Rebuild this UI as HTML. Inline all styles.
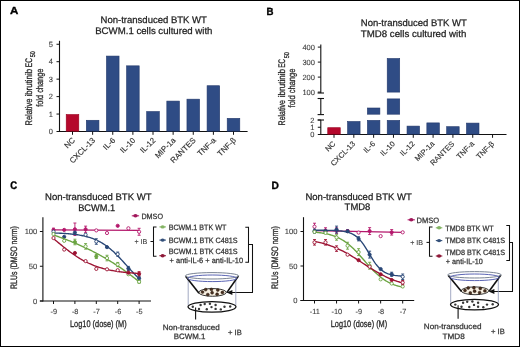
<!DOCTYPE html>
<html><head><meta charset="utf-8"><style>
html,body{margin:0;padding:0;background:#fff;}
svg{display:block;font-family:"Liberation Sans", sans-serif;will-change:transform;}
text{text-rendering:geometricPrecision;}
</style></head><body>
<svg width="520" height="347" viewBox="0 0 520 347">
<rect x="0" y="0" width="520" height="347" fill="#fff"/>
<text x="10.1" y="14.4" font-size="10.2" text-anchor="start" font-weight="bold" fill="#000" textLength="8.3" lengthAdjust="spacingAndGlyphs" stroke="#000" stroke-width="0.35">A</text>
<text x="266.6" y="14.6" font-size="10.4" text-anchor="start" font-weight="bold" fill="#000" textLength="7.0" lengthAdjust="spacingAndGlyphs" stroke="#000" stroke-width="0.35">B</text>
<text x="10.3" y="189.4" font-size="11.0" text-anchor="start" font-weight="bold" fill="#000" textLength="6.9" lengthAdjust="spacingAndGlyphs" stroke="#000" stroke-width="0.35">C</text>
<text x="271.4" y="189.0" font-size="10.6" text-anchor="start" font-weight="bold" fill="#000" textLength="7.4" lengthAdjust="spacingAndGlyphs" stroke="#000" stroke-width="0.35">D</text>
<text x="153.75" y="22.8" font-size="9.6" text-anchor="middle" font-weight="normal" fill="#222" textLength="106.3" lengthAdjust="spacingAndGlyphs" stroke="#222" stroke-width="0.25">Non-transduced BTK WT</text>
<text x="153.85" y="34.4" font-size="9.6" text-anchor="middle" font-weight="normal" fill="#222" textLength="117.3" lengthAdjust="spacingAndGlyphs" stroke="#222" stroke-width="0.25">BCWM.1 cells cultured with</text>
<line x1="59.5" y1="40.8" x2="59.5" y2="132.0" stroke="#111" stroke-width="1.1"/>
<line x1="59.0" y1="131.5" x2="247.6" y2="131.5" stroke="#111" stroke-width="1.1"/>
<line x1="56.5" y1="131.5" x2="59.5" y2="131.5" stroke="#111" stroke-width="1.0"/>
<text x="53.0" y="134.2" font-size="7.5" text-anchor="end" font-weight="normal" fill="#3a3a3a" stroke="#444" stroke-width="0.1">0</text>
<line x1="56.5" y1="114.05" x2="59.5" y2="114.05" stroke="#111" stroke-width="1.0"/>
<text x="53.0" y="116.75" font-size="7.5" text-anchor="end" font-weight="normal" fill="#3a3a3a" stroke="#444" stroke-width="0.1">1</text>
<line x1="56.5" y1="96.6" x2="59.5" y2="96.6" stroke="#111" stroke-width="1.0"/>
<text x="53.0" y="99.3" font-size="7.5" text-anchor="end" font-weight="normal" fill="#3a3a3a" stroke="#444" stroke-width="0.1">2</text>
<line x1="56.5" y1="79.15" x2="59.5" y2="79.15" stroke="#111" stroke-width="1.0"/>
<text x="53.0" y="81.85000000000001" font-size="7.5" text-anchor="end" font-weight="normal" fill="#3a3a3a" stroke="#444" stroke-width="0.1">3</text>
<line x1="56.5" y1="61.7" x2="59.5" y2="61.7" stroke="#111" stroke-width="1.0"/>
<text x="53.0" y="64.4" font-size="7.5" text-anchor="end" font-weight="normal" fill="#3a3a3a" stroke="#444" stroke-width="0.1">4</text>
<line x1="56.5" y1="44.25" x2="59.5" y2="44.25" stroke="#111" stroke-width="1.0"/>
<text x="53.0" y="46.95" font-size="7.5" text-anchor="end" font-weight="normal" fill="#3a3a3a" stroke="#444" stroke-width="0.1">5</text>
<rect x="66.20" y="114.52" width="12.60" height="16.68" fill="#b5082c" stroke="#98001f" stroke-width="0.6"/>
<line x1="72.5" y1="131.5" x2="72.5" y2="134.8" stroke="#111" stroke-width="1.0"/>
<text x="0" y="0" font-size="7.9" text-anchor="end" fill="#333" stroke="#333" stroke-width="0.15" transform="translate(75.50,140.80) rotate(-45)">NC</text>
<rect x="86.33" y="120.28" width="12.60" height="10.92" fill="#2f4c85" stroke="#22386a" stroke-width="0.6"/>
<line x1="92.625" y1="131.5" x2="92.625" y2="134.8" stroke="#111" stroke-width="1.0"/>
<text x="0" y="0" font-size="7.9" text-anchor="end" fill="#333" stroke="#333" stroke-width="0.15" transform="translate(95.62,140.80) rotate(-45)">CXCL-13</text>
<rect x="106.45" y="56.07" width="12.60" height="75.13" fill="#2f4c85" stroke="#22386a" stroke-width="0.6"/>
<line x1="112.75" y1="131.5" x2="112.75" y2="134.8" stroke="#111" stroke-width="1.0"/>
<text x="0" y="0" font-size="7.9" text-anchor="end" fill="#333" stroke="#333" stroke-width="0.15" transform="translate(115.75,140.80) rotate(-45)">IL-6</text>
<rect x="126.58" y="65.84" width="12.60" height="65.36" fill="#2f4c85" stroke="#22386a" stroke-width="0.6"/>
<line x1="132.875" y1="131.5" x2="132.875" y2="134.8" stroke="#111" stroke-width="1.0"/>
<text x="0" y="0" font-size="7.9" text-anchor="end" fill="#333" stroke="#333" stroke-width="0.15" transform="translate(135.88,140.80) rotate(-45)">IL-10</text>
<rect x="146.70" y="111.56" width="12.60" height="19.64" fill="#2f4c85" stroke="#22386a" stroke-width="0.6"/>
<line x1="153.0" y1="131.5" x2="153.0" y2="134.8" stroke="#111" stroke-width="1.0"/>
<text x="0" y="0" font-size="7.9" text-anchor="end" fill="#333" stroke="#333" stroke-width="0.15" transform="translate(156.00,140.80) rotate(-45)">IL-12</text>
<rect x="166.83" y="101.09" width="12.60" height="30.11" fill="#2f4c85" stroke="#22386a" stroke-width="0.6"/>
<line x1="173.125" y1="131.5" x2="173.125" y2="134.8" stroke="#111" stroke-width="1.0"/>
<text x="0" y="0" font-size="7.9" text-anchor="end" fill="#333" stroke="#333" stroke-width="0.15" transform="translate(176.12,140.80) rotate(-45)">MIP-1a</text>
<rect x="186.95" y="99.17" width="12.60" height="32.03" fill="#2f4c85" stroke="#22386a" stroke-width="0.6"/>
<line x1="193.25" y1="131.5" x2="193.25" y2="134.8" stroke="#111" stroke-width="1.0"/>
<text x="0" y="0" font-size="7.9" text-anchor="end" fill="#333" stroke="#333" stroke-width="0.15" transform="translate(196.25,140.80) rotate(-45)">RANTES</text>
<rect x="207.08" y="85.73" width="12.60" height="45.47" fill="#2f4c85" stroke="#22386a" stroke-width="0.6"/>
<line x1="213.375" y1="131.5" x2="213.375" y2="134.8" stroke="#111" stroke-width="1.0"/>
<text x="0" y="0" font-size="7.9" text-anchor="end" fill="#333" stroke="#333" stroke-width="0.15" transform="translate(216.38,140.80) rotate(-45)">TNF-a</text>
<rect x="227.20" y="118.36" width="12.60" height="12.84" fill="#2f4c85" stroke="#22386a" stroke-width="0.6"/>
<line x1="233.5" y1="131.5" x2="233.5" y2="134.8" stroke="#111" stroke-width="1.0"/>
<text x="0" y="0" font-size="7.9" text-anchor="end" fill="#333" stroke="#333" stroke-width="0.15" transform="translate(236.50,140.80) rotate(-45)">TNF-&#946;</text>
<text font-size="9.6" fill="#2a2a2a" stroke="#2a2a2a" stroke-width="0.3" transform="translate(31.9,125.4) rotate(-90)" textLength="26.7" lengthAdjust="spacingAndGlyphs">Relative</text>
<text font-size="9.6" fill="#2a2a2a" stroke="#2a2a2a" stroke-width="0.3" transform="translate(31.9,96.6) rotate(-90)" textLength="27.8" lengthAdjust="spacingAndGlyphs">ibrutinib</text>
<text font-size="9.6" fill="#2a2a2a" stroke="#2a2a2a" stroke-width="0.3" transform="translate(31.9,67.2) rotate(-90)" textLength="9.1" lengthAdjust="spacingAndGlyphs">EC</text>
<text font-size="6.912" fill="#2a2a2a" stroke="#2a2a2a" stroke-width="0.3" transform="translate(35.3,57.2) rotate(-90)" textLength="6.0" lengthAdjust="spacingAndGlyphs">50</text>
<text font-size="9.6" fill="#2a2a2a" stroke="#2a2a2a" stroke-width="0.3" transform="translate(42.9,106.8) rotate(-90)" textLength="38.2" lengthAdjust="spacingAndGlyphs">fold change</text>
<text x="413.8" y="25.7" font-size="9.6" text-anchor="middle" font-weight="normal" fill="#222" textLength="106.0" lengthAdjust="spacingAndGlyphs" stroke="#222" stroke-width="0.25">Non-transduced BTK WT</text>
<text x="413.55" y="36.8" font-size="9.6" text-anchor="middle" font-weight="normal" fill="#222" textLength="105.5" lengthAdjust="spacingAndGlyphs" stroke="#222" stroke-width="0.25">TMD8 cells cultured with</text>
<line x1="320.8" y1="44.4" x2="320.8" y2="93.0" stroke="#111" stroke-width="1.1"/>
<line x1="317.6" y1="93.0" x2="324.0" y2="93.0" stroke="#111" stroke-width="1.1"/>
<line x1="317.8" y1="47.1" x2="320.8" y2="47.1" stroke="#111" stroke-width="1.0"/>
<text x="314.9" y="49.800000000000004" font-size="7.5" text-anchor="end" font-weight="normal" fill="#3a3a3a" stroke="#444" stroke-width="0.1">400</text>
<line x1="317.8" y1="62.1" x2="320.8" y2="62.1" stroke="#111" stroke-width="1.0"/>
<text x="314.9" y="64.8" font-size="7.5" text-anchor="end" font-weight="normal" fill="#3a3a3a" stroke="#444" stroke-width="0.1">300</text>
<line x1="317.8" y1="77.1" x2="320.8" y2="77.1" stroke="#111" stroke-width="1.0"/>
<text x="314.9" y="79.8" font-size="7.5" text-anchor="end" font-weight="normal" fill="#3a3a3a" stroke="#444" stroke-width="0.1">200</text>
<line x1="317.8" y1="92.1" x2="320.8" y2="92.1" stroke="#111" stroke-width="1.0"/>
<text x="314.9" y="94.8" font-size="7.5" text-anchor="end" font-weight="normal" fill="#3a3a3a" stroke="#444" stroke-width="0.1">100</text>
<line x1="320.8" y1="98.5" x2="320.8" y2="114.6" stroke="#111" stroke-width="1.1"/>
<line x1="317.6" y1="98.5" x2="324.0" y2="98.5" stroke="#111" stroke-width="1.1"/>
<line x1="317.6" y1="114.6" x2="324.0" y2="114.6" stroke="#111" stroke-width="1.1"/>
<line x1="320.8" y1="120.0" x2="320.8" y2="135.0" stroke="#111" stroke-width="1.1"/>
<line x1="317.6" y1="120.0" x2="324.0" y2="120.0" stroke="#111" stroke-width="1.1"/>
<text x="314.5" y="137.2" font-size="7.5" text-anchor="end" font-weight="normal" fill="#3a3a3a" stroke="#444" stroke-width="0.1">0</text>
<line x1="317.8" y1="127.25" x2="320.8" y2="127.25" stroke="#111" stroke-width="1.0"/>
<text x="314.5" y="129.95" font-size="7.5" text-anchor="end" font-weight="normal" fill="#3a3a3a" stroke="#444" stroke-width="0.1">1</text>
<line x1="317.8" y1="120.0" x2="320.8" y2="120.0" stroke="#111" stroke-width="1.0"/>
<text x="314.5" y="122.7" font-size="7.5" text-anchor="end" font-weight="normal" fill="#3a3a3a" stroke="#444" stroke-width="0.1">2</text>
<line x1="317.8" y1="134.5" x2="506.5" y2="134.5" stroke="#111" stroke-width="1.1"/>
<rect x="327.75" y="127.70" width="12.50" height="6.50" fill="#b5082c" stroke="#98001f" stroke-width="0.6"/>
<line x1="334.0" y1="134.5" x2="334.0" y2="137.8" stroke="#111" stroke-width="1.0"/>
<text x="0" y="0" font-size="7.6" text-anchor="end" fill="#333" stroke="#333" stroke-width="0.15" transform="translate(336.00,144.30) rotate(-45)">NC</text>
<rect x="347.57" y="121.50" width="12.50" height="12.70" fill="#2f4c85" stroke="#22386a" stroke-width="0.6"/>
<line x1="353.82" y1="134.5" x2="353.82" y2="137.8" stroke="#111" stroke-width="1.0"/>
<text x="0" y="0" font-size="7.6" text-anchor="end" fill="#333" stroke="#333" stroke-width="0.15" transform="translate(355.82,144.30) rotate(-45)">CXCL-13</text>
<rect x="367.39" y="120.40" width="12.50" height="13.80" fill="#2f4c85" stroke="#22386a" stroke-width="0.6"/>
<rect x="367.39" y="108.00" width="12.50" height="6.20" fill="#2f4c85" stroke="#22386a" stroke-width="0.6"/>
<line x1="373.64" y1="134.5" x2="373.64" y2="137.8" stroke="#111" stroke-width="1.0"/>
<text x="0" y="0" font-size="7.6" text-anchor="end" fill="#333" stroke="#333" stroke-width="0.15" transform="translate(375.64,144.30) rotate(-45)">IL-6</text>
<rect x="387.21" y="120.40" width="12.50" height="13.80" fill="#2f4c85" stroke="#22386a" stroke-width="0.6"/>
<rect x="387.21" y="98.90" width="12.50" height="15.30" fill="#2f4c85" stroke="#22386a" stroke-width="0.6"/>
<rect x="387.21" y="58.50" width="12.50" height="33.60" fill="#2f4c85" stroke="#22386a" stroke-width="0.6"/>
<line x1="393.46" y1="134.5" x2="393.46" y2="137.8" stroke="#111" stroke-width="1.0"/>
<text x="0" y="0" font-size="7.6" text-anchor="end" fill="#333" stroke="#333" stroke-width="0.15" transform="translate(395.46,144.30) rotate(-45)">IL-10</text>
<rect x="407.03" y="126.10" width="12.50" height="8.10" fill="#2f4c85" stroke="#22386a" stroke-width="0.6"/>
<line x1="413.28" y1="134.5" x2="413.28" y2="137.8" stroke="#111" stroke-width="1.0"/>
<text x="0" y="0" font-size="7.6" text-anchor="end" fill="#333" stroke="#333" stroke-width="0.15" transform="translate(415.28,144.30) rotate(-45)">IL-12</text>
<rect x="426.85" y="122.90" width="12.50" height="11.30" fill="#2f4c85" stroke="#22386a" stroke-width="0.6"/>
<line x1="433.1" y1="134.5" x2="433.1" y2="137.8" stroke="#111" stroke-width="1.0"/>
<text x="0" y="0" font-size="7.6" text-anchor="end" fill="#333" stroke="#333" stroke-width="0.15" transform="translate(435.10,144.30) rotate(-45)">MIP-1a</text>
<rect x="446.67" y="126.70" width="12.50" height="7.50" fill="#2f4c85" stroke="#22386a" stroke-width="0.6"/>
<line x1="452.92" y1="134.5" x2="452.92" y2="137.8" stroke="#111" stroke-width="1.0"/>
<text x="0" y="0" font-size="7.6" text-anchor="end" fill="#333" stroke="#333" stroke-width="0.15" transform="translate(454.92,144.30) rotate(-45)">RANTES</text>
<rect x="466.49" y="123.10" width="12.50" height="11.10" fill="#2f4c85" stroke="#22386a" stroke-width="0.6"/>
<line x1="472.74" y1="134.5" x2="472.74" y2="137.8" stroke="#111" stroke-width="1.0"/>
<text x="0" y="0" font-size="7.6" text-anchor="end" fill="#333" stroke="#333" stroke-width="0.15" transform="translate(474.74,144.30) rotate(-45)">TNF-a</text>
<line x1="492.56" y1="134.5" x2="492.56" y2="137.8" stroke="#111" stroke-width="1.0"/>
<text x="0" y="0" font-size="7.6" text-anchor="end" fill="#333" stroke="#333" stroke-width="0.15" transform="translate(494.56,144.30) rotate(-45)">TNF-&#946;</text>
<text font-size="9.6" fill="#2a2a2a" stroke="#2a2a2a" stroke-width="0.3" transform="translate(284.9,125.4) rotate(-90)" textLength="25.2" lengthAdjust="spacingAndGlyphs">Relative</text>
<text font-size="9.6" fill="#2a2a2a" stroke="#2a2a2a" stroke-width="0.3" transform="translate(284.9,97.3) rotate(-90)" textLength="28.3" lengthAdjust="spacingAndGlyphs">ibrutinib</text>
<text font-size="9.6" fill="#2a2a2a" stroke="#2a2a2a" stroke-width="0.3" transform="translate(284.9,67.7) rotate(-90)" textLength="8.7" lengthAdjust="spacingAndGlyphs">EC</text>
<text font-size="6.912" fill="#2a2a2a" stroke="#2a2a2a" stroke-width="0.3" transform="translate(288.9,58.3) rotate(-90)" textLength="6.2" lengthAdjust="spacingAndGlyphs">50</text>
<text font-size="9.6" fill="#2a2a2a" stroke="#2a2a2a" stroke-width="0.3" transform="translate(294.7,107.4) rotate(-90)" textLength="38.7" lengthAdjust="spacingAndGlyphs">fold change</text>
<text x="98.25" y="199.9" font-size="9.6" text-anchor="middle" font-weight="normal" fill="#222" textLength="106.5" lengthAdjust="spacingAndGlyphs" stroke="#222" stroke-width="0.25">Non-transduced BTK WT</text>
<text x="96.7" y="211.0" font-size="9.6" text-anchor="middle" font-weight="normal" fill="#222" textLength="37.0" lengthAdjust="spacingAndGlyphs" stroke="#222" stroke-width="0.25">BCWM.1</text>
<line x1="42.9" y1="217.2" x2="42.9" y2="301.5" stroke="#111" stroke-width="1.1"/>
<line x1="39.9" y1="301.0" x2="151.0" y2="301.0" stroke="#111" stroke-width="1.1"/>
<line x1="39.9" y1="231.5" x2="42.9" y2="231.5" stroke="#111" stroke-width="1.0"/>
<text x="37.3" y="234.2" font-size="7.6" text-anchor="end" font-weight="normal" fill="#3a3a3a" stroke="#444" stroke-width="0.1">100</text>
<line x1="39.9" y1="266.25" x2="42.9" y2="266.25" stroke="#111" stroke-width="1.0"/>
<text x="37.3" y="268.95" font-size="7.6" text-anchor="end" font-weight="normal" fill="#3a3a3a" stroke="#444" stroke-width="0.1">50</text>
<line x1="39.9" y1="301.0" x2="42.9" y2="301.0" stroke="#111" stroke-width="1.0"/>
<text x="37.3" y="303.7" font-size="7.6" text-anchor="end" font-weight="normal" fill="#3a3a3a" stroke="#444" stroke-width="0.1">0</text>
<line x1="53.5" y1="301.0" x2="53.5" y2="304.0" stroke="#111" stroke-width="1.0"/>
<text x="53.8" y="313.6" font-size="7.4" text-anchor="middle" font-weight="normal" fill="#3a3a3a" stroke="#444" stroke-width="0.1">-9</text>
<line x1="74.9" y1="301.0" x2="74.9" y2="304.0" stroke="#111" stroke-width="1.0"/>
<text x="75.2" y="313.6" font-size="7.4" text-anchor="middle" font-weight="normal" fill="#3a3a3a" stroke="#444" stroke-width="0.1">-8</text>
<line x1="96.3" y1="301.0" x2="96.3" y2="304.0" stroke="#111" stroke-width="1.0"/>
<text x="96.6" y="313.6" font-size="7.4" text-anchor="middle" font-weight="normal" fill="#3a3a3a" stroke="#444" stroke-width="0.1">-7</text>
<line x1="117.69999999999999" y1="301.0" x2="117.69999999999999" y2="304.0" stroke="#111" stroke-width="1.0"/>
<text x="117.99999999999999" y="313.6" font-size="7.4" text-anchor="middle" font-weight="normal" fill="#3a3a3a" stroke="#444" stroke-width="0.1">-6</text>
<line x1="139.1" y1="301.0" x2="139.1" y2="304.0" stroke="#111" stroke-width="1.0"/>
<text x="139.4" y="313.6" font-size="7.4" text-anchor="middle" font-weight="normal" fill="#3a3a3a" stroke="#444" stroke-width="0.1">-5</text>
<text x="70.0" y="327.3" font-size="9.6" text-anchor="start" font-weight="normal" fill="#2a2a2a" textLength="56.6" lengthAdjust="spacingAndGlyphs" stroke="#2a2a2a" stroke-width="0.3">Log10 (dose) (M)</text>
<text font-size="9.4" fill="#2a2a2a" stroke="#2a2a2a" stroke-width="0.3" text-anchor="middle" transform="translate(17.4,257.6) rotate(-90)" textLength="62.8" lengthAdjust="spacingAndGlyphs">RLUs (DMSO norm)</text>
<line x1="53.5" y1="229.9" x2="139.1" y2="230.4" stroke="#b4186c" stroke-width="1.35"/>
<line x1="53.5" y1="228.164" x2="53.5" y2="231.639" stroke="#b4186c" stroke-width="0.9"/>
<line x1="52.0" y1="228.164" x2="55.0" y2="228.164" stroke="#b4186c" stroke-width="0.9"/>
<line x1="52.0" y1="231.639" x2="55.0" y2="231.639" stroke="#b4186c" stroke-width="0.9"/>
<circle cx="53.50" cy="229.90" r="1.6" fill="#b4186c" stroke="#b4186c" stroke-width="0.9"/>
<circle cx="64.20" cy="229.90" r="1.6" fill="#b4186c" stroke="#b4186c" stroke-width="0.9"/>
<line x1="74.9" y1="223.02100000000002" x2="74.9" y2="235.531" stroke="#b4186c" stroke-width="0.9"/>
<line x1="73.4" y1="223.02100000000002" x2="76.4" y2="223.02100000000002" stroke="#b4186c" stroke-width="0.9"/>
<line x1="73.4" y1="235.531" x2="76.4" y2="235.531" stroke="#b4186c" stroke-width="0.9"/>
<circle cx="74.90" cy="229.28" r="1.6" fill="#b4186c" stroke="#b4186c" stroke-width="0.9"/>
<line x1="85.6" y1="226.1485" x2="85.6" y2="232.4035" stroke="#b4186c" stroke-width="0.9"/>
<line x1="84.1" y1="226.1485" x2="87.1" y2="226.1485" stroke="#b4186c" stroke-width="0.9"/>
<line x1="84.1" y1="232.4035" x2="87.1" y2="232.4035" stroke="#b4186c" stroke-width="0.9"/>
<circle cx="85.60" cy="229.28" r="1.6" fill="#b4186c" stroke="#b4186c" stroke-width="0.9"/>
<circle cx="96.30" cy="230.39" r="1.6" fill="#fff" stroke="#b4186c" stroke-width="0.9"/>
<circle cx="107.00" cy="233.03" r="1.6" fill="#fff" stroke="#b4186c" stroke-width="0.9"/>
<circle cx="117.70" cy="225.80" r="1.6" fill="#b4186c" stroke="#b4186c" stroke-width="0.9"/>
<circle cx="128.40" cy="228.30" r="1.6" fill="#fff" stroke="#b4186c" stroke-width="0.9"/>
<line x1="139.1" y1="228.30300000000003" x2="139.1" y2="235.25300000000001" stroke="#b4186c" stroke-width="0.9"/>
<line x1="137.6" y1="228.30300000000003" x2="140.6" y2="228.30300000000003" stroke="#b4186c" stroke-width="0.9"/>
<line x1="137.6" y1="235.25300000000001" x2="140.6" y2="235.25300000000001" stroke="#b4186c" stroke-width="0.9"/>
<circle cx="139.10" cy="231.78" r="1.6" fill="#fff" stroke="#b4186c" stroke-width="0.9"/>
<path d="M53.50,232.98 L54.58,233.01 L55.67,233.05 L56.75,233.09 L57.83,233.14 L58.92,233.18 L60.00,233.23 L61.08,233.29 L62.17,233.34 L63.25,233.41 L64.34,233.47 L65.42,233.54 L66.50,233.62 L67.59,233.70 L68.67,233.79 L69.75,233.89 L70.84,233.99 L71.92,234.10 L73.00,234.22 L74.09,234.34 L75.17,234.48 L76.25,234.62 L77.34,234.78 L78.42,234.94 L79.51,235.12 L80.59,235.31 L81.67,235.51 L82.76,235.73 L83.84,235.96 L84.92,236.21 L86.01,236.48 L87.09,236.76 L88.17,237.06 L89.26,237.38 L90.34,237.72 L91.42,238.08 L92.51,238.47 L93.59,238.88 L94.67,239.31 L95.76,239.78 L96.84,240.26 L97.93,240.78 L99.01,241.33 L100.09,241.90 L101.18,242.51 L102.26,243.15 L103.34,243.82 L104.43,244.52 L105.51,245.26 L106.59,246.03 L107.68,246.84 L108.76,247.67 L109.84,248.55 L110.93,249.46 L112.01,250.40 L113.09,251.37 L114.18,252.37 L115.26,253.40 L116.35,254.46 L117.43,255.55 L118.51,256.66 L119.60,257.79 L120.68,258.95 L121.76,260.11 L122.85,261.30 L123.93,262.49 L125.01,263.69 L126.10,264.90 L127.18,266.11 L128.26,267.31 L129.35,268.51 L130.43,269.70 L131.52,270.88 L132.60,272.05 L133.68,273.20 L134.77,274.33 L135.85,275.43 L136.93,276.52 L138.02,277.57 L139.10,278.60" fill="none" stroke="#284676" stroke-width="1.35"/>
<circle cx="53.50" cy="231.64" r="1.6" fill="#fff" stroke="#284676" stroke-width="0.9"/>
<circle cx="64.20" cy="236.85" r="1.6" fill="#284676" stroke="#284676" stroke-width="0.9"/>
<circle cx="74.90" cy="232.61" r="1.6" fill="#284676" stroke="#284676" stroke-width="0.9"/>
<circle cx="85.60" cy="234.77" r="1.6" fill="#fff" stroke="#284676" stroke-width="0.9"/>
<line x1="96.3" y1="238.728" x2="96.3" y2="244.288" stroke="#284676" stroke-width="0.9"/>
<line x1="94.8" y1="238.728" x2="97.8" y2="238.728" stroke="#284676" stroke-width="0.9"/>
<line x1="94.8" y1="244.288" x2="97.8" y2="244.288" stroke="#284676" stroke-width="0.9"/>
<circle cx="96.30" cy="241.51" r="1.6" fill="#fff" stroke="#284676" stroke-width="0.9"/>
<circle cx="107.00" cy="247.14" r="1.6" fill="#284676" stroke="#284676" stroke-width="0.9"/>
<line x1="117.69999999999999" y1="252.07199999999997" x2="117.69999999999999" y2="256.24199999999996" stroke="#284676" stroke-width="0.9"/>
<line x1="116.19999999999999" y1="252.07199999999997" x2="119.19999999999999" y2="252.07199999999997" stroke="#284676" stroke-width="0.9"/>
<line x1="116.19999999999999" y1="256.24199999999996" x2="119.19999999999999" y2="256.24199999999996" stroke="#284676" stroke-width="0.9"/>
<circle cx="117.70" cy="254.16" r="1.6" fill="#fff" stroke="#284676" stroke-width="0.9"/>
<line x1="128.39999999999998" y1="266.389" x2="128.39999999999998" y2="270.55899999999997" stroke="#284676" stroke-width="0.9"/>
<line x1="126.89999999999998" y1="266.389" x2="129.89999999999998" y2="266.389" stroke="#284676" stroke-width="0.9"/>
<line x1="126.89999999999998" y1="270.55899999999997" x2="129.89999999999998" y2="270.55899999999997" stroke="#284676" stroke-width="0.9"/>
<circle cx="128.40" cy="268.47" r="1.6" fill="#284676" stroke="#284676" stroke-width="0.9"/>
<line x1="139.1" y1="276.25800000000004" x2="139.1" y2="280.428" stroke="#284676" stroke-width="0.9"/>
<line x1="137.6" y1="276.25800000000004" x2="140.6" y2="276.25800000000004" stroke="#284676" stroke-width="0.9"/>
<line x1="137.6" y1="280.428" x2="140.6" y2="280.428" stroke="#284676" stroke-width="0.9"/>
<circle cx="139.10" cy="278.34" r="1.6" fill="#284676" stroke="#284676" stroke-width="0.9"/>
<path d="M53.50,235.01 L54.58,235.37 L55.67,235.75 L56.75,236.12 L57.83,236.50 L58.92,236.88 L60.00,237.27 L61.08,237.67 L62.17,238.06 L63.25,238.46 L64.34,238.87 L65.42,239.28 L66.50,239.70 L67.59,240.12 L68.67,240.54 L69.75,240.98 L70.84,241.41 L71.92,241.85 L73.00,242.30 L74.09,242.75 L75.17,243.20 L76.25,243.66 L77.34,244.13 L78.42,244.60 L79.51,245.08 L80.59,245.56 L81.67,246.05 L82.76,246.54 L83.84,247.04 L84.92,247.55 L86.01,248.06 L87.09,248.58 L88.17,249.10 L89.26,249.63 L90.34,250.16 L91.42,250.70 L92.51,251.25 L93.59,251.80 L94.67,252.36 L95.76,252.93 L96.84,253.50 L97.93,254.08 L99.01,254.67 L100.09,255.26 L101.18,255.86 L102.26,256.47 L103.34,257.08 L104.43,257.70 L105.51,258.33 L106.59,258.96 L107.68,259.61 L108.76,260.26 L109.84,260.91 L110.93,261.58 L112.01,262.25 L113.09,262.93 L114.18,263.62 L115.26,264.31 L116.35,265.02 L117.43,265.73 L118.51,266.45 L119.60,267.18 L120.68,267.91 L121.76,268.66 L122.85,269.41 L123.93,270.17 L125.01,270.94 L126.10,271.72 L127.18,272.51 L128.26,273.31 L129.35,274.12 L130.43,274.93 L131.52,275.76 L132.60,276.59 L133.68,277.44 L134.77,278.29 L135.85,279.15 L136.93,280.03 L138.02,280.91 L139.10,281.81" fill="none" stroke="#6ba442" stroke-width="1.35"/>
<circle cx="53.50" cy="234.07" r="1.6" fill="#fff" stroke="#6ba442" stroke-width="0.9"/>
<circle cx="64.20" cy="240.81" r="1.6" fill="#fff" stroke="#6ba442" stroke-width="0.9"/>
<line x1="74.9" y1="239.21450000000002" x2="74.9" y2="244.77450000000002" stroke="#6ba442" stroke-width="0.9"/>
<line x1="73.4" y1="239.21450000000002" x2="76.4" y2="239.21450000000002" stroke="#6ba442" stroke-width="0.9"/>
<line x1="73.4" y1="244.77450000000002" x2="76.4" y2="244.77450000000002" stroke="#6ba442" stroke-width="0.9"/>
<circle cx="74.90" cy="241.99" r="1.6" fill="#6ba442" stroke="#6ba442" stroke-width="0.9"/>
<line x1="85.6" y1="243.593" x2="85.6" y2="249.153" stroke="#6ba442" stroke-width="0.9"/>
<line x1="84.1" y1="243.593" x2="87.1" y2="243.593" stroke="#6ba442" stroke-width="0.9"/>
<line x1="84.1" y1="249.153" x2="87.1" y2="249.153" stroke="#6ba442" stroke-width="0.9"/>
<circle cx="85.60" cy="246.37" r="1.6" fill="#fff" stroke="#6ba442" stroke-width="0.9"/>
<line x1="96.3" y1="254.36550000000003" x2="96.3" y2="258.5355" stroke="#6ba442" stroke-width="0.9"/>
<line x1="94.8" y1="254.36550000000003" x2="97.8" y2="254.36550000000003" stroke="#6ba442" stroke-width="0.9"/>
<line x1="94.8" y1="258.5355" x2="97.8" y2="258.5355" stroke="#6ba442" stroke-width="0.9"/>
<circle cx="96.30" cy="256.45" r="1.6" fill="#6ba442" stroke="#6ba442" stroke-width="0.9"/>
<line x1="107.0" y1="255.26899999999998" x2="107.0" y2="260.82899999999995" stroke="#6ba442" stroke-width="0.9"/>
<line x1="105.5" y1="255.26899999999998" x2="108.5" y2="255.26899999999998" stroke="#6ba442" stroke-width="0.9"/>
<line x1="105.5" y1="260.82899999999995" x2="108.5" y2="260.82899999999995" stroke="#6ba442" stroke-width="0.9"/>
<circle cx="107.00" cy="258.05" r="1.6" fill="#fff" stroke="#6ba442" stroke-width="0.9"/>
<line x1="117.69999999999999" y1="262.4275" x2="117.69999999999999" y2="266.59749999999997" stroke="#6ba442" stroke-width="0.9"/>
<line x1="116.19999999999999" y1="262.4275" x2="119.19999999999999" y2="262.4275" stroke="#6ba442" stroke-width="0.9"/>
<line x1="116.19999999999999" y1="266.59749999999997" x2="119.19999999999999" y2="266.59749999999997" stroke="#6ba442" stroke-width="0.9"/>
<circle cx="117.70" cy="264.51" r="1.6" fill="#fff" stroke="#6ba442" stroke-width="0.9"/>
<circle cx="128.40" cy="274.24" r="1.6" fill="#fff" stroke="#6ba442" stroke-width="0.9"/>
<line x1="139.1" y1="280.428" x2="139.1" y2="283.20799999999997" stroke="#6ba442" stroke-width="0.9"/>
<line x1="137.6" y1="280.428" x2="140.6" y2="280.428" stroke="#6ba442" stroke-width="0.9"/>
<line x1="137.6" y1="283.20799999999997" x2="140.6" y2="283.20799999999997" stroke="#6ba442" stroke-width="0.9"/>
<circle cx="139.10" cy="281.82" r="1.6" fill="#fff" stroke="#6ba442" stroke-width="0.9"/>
<path d="M53.50,238.63 L54.58,239.52 L55.67,240.42 L56.75,241.31 L57.83,242.21 L58.92,243.11 L60.00,244.00 L61.08,244.89 L62.17,245.77 L63.25,246.65 L64.34,247.52 L65.42,248.38 L66.50,249.22 L67.59,250.06 L68.67,250.89 L69.75,251.70 L70.84,252.50 L71.92,253.29 L73.00,254.06 L74.09,254.81 L75.17,255.55 L76.25,256.27 L77.34,256.97 L78.42,257.66 L79.51,258.32 L80.59,258.97 L81.67,259.60 L82.76,260.22 L83.84,260.81 L84.92,261.39 L86.01,261.94 L87.09,262.48 L88.17,263.00 L89.26,263.51 L90.34,263.99 L91.42,264.46 L92.51,264.91 L93.59,265.34 L94.67,265.76 L95.76,266.16 L96.84,266.54 L97.93,266.91 L99.01,267.27 L100.09,267.61 L101.18,267.93 L102.26,268.24 L103.34,268.54 L104.43,268.83 L105.51,269.10 L106.59,269.36 L107.68,269.61 L108.76,269.85 L109.84,270.08 L110.93,270.30 L112.01,270.50 L113.09,270.70 L114.18,270.89 L115.26,271.07 L116.35,271.24 L117.43,271.41 L118.51,271.56 L119.60,271.71 L120.68,271.85 L121.76,271.99 L122.85,272.11 L123.93,272.24 L125.01,272.35 L126.10,272.46 L127.18,272.57 L128.26,272.67 L129.35,272.76 L130.43,272.85 L131.52,272.94 L132.60,273.02 L133.68,273.09 L134.77,273.17 L135.85,273.24 L136.93,273.30 L138.02,273.37 L139.10,273.43" fill="none" stroke="#9c1232" stroke-width="1.35"/>
<circle cx="53.50" cy="238.03" r="1.6" fill="#fff" stroke="#9c1232" stroke-width="0.9"/>
<circle cx="64.20" cy="249.57" r="1.6" fill="#fff" stroke="#9c1232" stroke-width="0.9"/>
<circle cx="74.90" cy="252.98" r="1.6" fill="#9c1232" stroke="#9c1232" stroke-width="0.9"/>
<circle cx="85.60" cy="261.11" r="1.6" fill="#fff" stroke="#9c1232" stroke-width="0.9"/>
<circle cx="96.30" cy="268.89" r="1.6" fill="#fff" stroke="#9c1232" stroke-width="0.9"/>
<circle cx="107.00" cy="269.31" r="1.6" fill="#fff" stroke="#9c1232" stroke-width="0.9"/>
<circle cx="117.70" cy="270.21" r="1.6" fill="#fff" stroke="#9c1232" stroke-width="0.9"/>
<circle cx="128.40" cy="272.64" r="1.6" fill="#9c1232" stroke="#9c1232" stroke-width="0.9"/>
<line x1="139.1" y1="271.671" x2="139.1" y2="275.84099999999995" stroke="#9c1232" stroke-width="0.9"/>
<line x1="137.6" y1="271.671" x2="140.6" y2="271.671" stroke="#9c1232" stroke-width="0.9"/>
<line x1="137.6" y1="275.84099999999995" x2="140.6" y2="275.84099999999995" stroke="#9c1232" stroke-width="0.9"/>
<circle cx="139.10" cy="273.76" r="1.6" fill="#9c1232" stroke="#9c1232" stroke-width="0.9"/>
<line x1="131.8" y1="215.8" x2="139.10000000000002" y2="215.8" stroke="#b82070" stroke-width="1.1"/>
<ellipse cx="135.45000000000002" cy="215.8" rx="2.2" ry="1.8" fill="#a0185a"/>
<text x="141.4" y="218.5" font-size="7.7" text-anchor="start" font-weight="normal" fill="#333" textLength="21.6" lengthAdjust="spacingAndGlyphs" stroke="#333" stroke-width="0.25">DMSO</text>
<path d="M156.5,226.9 H153.5 V256.2 H156.5" fill="none" stroke="#111" stroke-width="1.05"/>
<line x1="150.5" y1="241.5" x2="153.5" y2="241.5" stroke="#111" stroke-width="1.05"/>
<text x="147.3" y="244.0" font-size="7.1" text-anchor="end" font-weight="normal" fill="#3a3a3a" stroke="#3a3a3a" stroke-width="0.1">+ IB</text>
<line x1="159.4" y1="226.9" x2="165.9" y2="226.9" stroke="#84b464" stroke-width="1.1"/>
<ellipse cx="162.65" cy="226.9" rx="2.1" ry="1.7" fill="#84b464"/>
<line x1="159.4" y1="240.1" x2="165.9" y2="240.1" stroke="#34507a" stroke-width="1.1"/>
<ellipse cx="162.65" cy="240.1" rx="2.1" ry="1.7" fill="#34507a"/>
<line x1="159.4" y1="255.7" x2="165.9" y2="255.7" stroke="#8e1838" stroke-width="1.1"/>
<ellipse cx="162.65" cy="255.7" rx="2.1" ry="1.7" fill="#8e1838"/>
<text x="168.7" y="230.1" font-size="7.7" text-anchor="start" font-weight="normal" fill="#333" textLength="57.6" lengthAdjust="spacingAndGlyphs" stroke="#333" stroke-width="0.25">BCWM.1 BTK WT</text>
<text x="168.7" y="242.5" font-size="7.7" text-anchor="start" font-weight="normal" fill="#333" textLength="69.0" lengthAdjust="spacingAndGlyphs" stroke="#333" stroke-width="0.25">BCWM.1 BTK C481S</text>
<text x="168.7" y="254.4" font-size="7.7" text-anchor="start" font-weight="normal" fill="#333" textLength="69.0" lengthAdjust="spacingAndGlyphs" stroke="#333" stroke-width="0.25">BCWM.1 BTK C481S</text>
<text x="169.6" y="263.1" font-size="7.7" text-anchor="start" font-weight="normal" fill="#333" textLength="73.5" lengthAdjust="spacingAndGlyphs" stroke="#333" stroke-width="0.25">+ anti-IL-6 + anti-IL-10</text>
<path d="M245.3,227.3 H248.5 V262.2 H245.3" fill="none" stroke="#111" stroke-width="1.05"/>
<path d="M248.5,244.5 H252.5 V292.5 H231.6" fill="none" stroke="#111" stroke-width="1.05"/>
<path d="M226.6,292.5 L232.4,289.9 L232.4,295.1 Z" fill="#111"/>
<line x1="188.2" y1="279" x2="188.2" y2="305" stroke="#8c94b4" stroke-width="0.8"/>
<line x1="235.8" y1="279" x2="235.8" y2="305" stroke="#8c94b4" stroke-width="0.8"/>
<ellipse cx="212.0" cy="306.8" rx="24.0" ry="5.3" fill="#fff" stroke="#111" stroke-width="1.25"/>
<circle cx="192.80" cy="306.80" r="1.2" fill="#383838"/>
<circle cx="199.00" cy="308.90" r="1.2" fill="#383838"/>
<circle cx="200.60" cy="305.00" r="1.2" fill="#383838"/>
<circle cx="204.70" cy="304.00" r="1.2" fill="#383838"/>
<circle cx="206.80" cy="309.20" r="1.2" fill="#383838"/>
<circle cx="209.90" cy="303.70" r="1.2" fill="#383838"/>
<circle cx="211.50" cy="307.10" r="1.2" fill="#383838"/>
<circle cx="215.60" cy="305.00" r="1.2" fill="#383838"/>
<circle cx="215.60" cy="308.90" r="1.2" fill="#383838"/>
<circle cx="220.80" cy="309.40" r="1.2" fill="#383838"/>
<circle cx="224.50" cy="306.80" r="1.2" fill="#383838"/>
<circle cx="230.20" cy="306.50" r="1.2" fill="#383838"/>
<line x1="195.6" y1="307.5" x2="195.6" y2="319.6" stroke="#111" stroke-width="1.1"/>
<ellipse cx="212.5" cy="292.4" rx="13.8" ry="3.9" fill="#f8f0e2" stroke="#222" stroke-width="0.9"/>
<circle cx="202.50" cy="292.10" r="1.45" fill="#4a3020" stroke="#24160c" stroke-width="0.5"/>
<circle cx="205.70" cy="289.60" r="1.45" fill="#4a3020" stroke="#24160c" stroke-width="0.5"/>
<circle cx="207.80" cy="294.60" r="1.45" fill="#4a3020" stroke="#24160c" stroke-width="0.5"/>
<circle cx="211.40" cy="289.40" r="1.45" fill="#4a3020" stroke="#24160c" stroke-width="0.5"/>
<circle cx="212.10" cy="292.80" r="1.45" fill="#4a3020" stroke="#24160c" stroke-width="0.5"/>
<circle cx="217.10" cy="294.30" r="1.45" fill="#4a3020" stroke="#24160c" stroke-width="0.5"/>
<circle cx="217.80" cy="290.10" r="1.45" fill="#4a3020" stroke="#24160c" stroke-width="0.5"/>
<circle cx="222.40" cy="292.50" r="1.45" fill="#4a3020" stroke="#24160c" stroke-width="0.5"/>
<path d="M185.6,276.2 L199.0,293.2" stroke="#111" stroke-width="1.6" fill="none"/>
<path d="M238.4,276.0 L226.8,292.6" stroke="#111" stroke-width="1.6" fill="none"/>
<ellipse cx="212.0" cy="275.8" rx="26.6" ry="3.2" fill="none" stroke="#7a8494" stroke-width="1.0"/>
<ellipse cx="212.2" cy="278.3" rx="24.6" ry="3.3" fill="none" stroke="#5a64b4" stroke-width="1.0"/>
<text x="191.2" y="329.9" font-size="7.8" text-anchor="middle" font-weight="normal" fill="#333" textLength="57.1" lengthAdjust="spacingAndGlyphs" stroke="#333" stroke-width="0.25">Non-transduced</text>
<text x="189.6" y="339.4" font-size="7.8" text-anchor="middle" font-weight="normal" fill="#333" textLength="31.5" lengthAdjust="spacingAndGlyphs" stroke="#333" stroke-width="0.25">BCWM.1</text>
<text x="228.0" y="334.6" font-size="7.6" text-anchor="start" font-weight="normal" fill="#333" stroke="#333" stroke-width="0.25">+ IB</text>
<text x="358.65" y="199.6" font-size="9.6" text-anchor="middle" font-weight="normal" fill="#222" textLength="106.5" lengthAdjust="spacingAndGlyphs" stroke="#222" stroke-width="0.25">Non-transduced BTK WT</text>
<text x="357.5" y="210.4" font-size="9.6" text-anchor="middle" font-weight="normal" fill="#222" textLength="25.8" lengthAdjust="spacingAndGlyphs" stroke="#222" stroke-width="0.25">TMD8</text>
<line x1="303.5" y1="217.2" x2="303.5" y2="301.0" stroke="#111" stroke-width="1.1"/>
<line x1="300.5" y1="300.5" x2="414.2" y2="300.5" stroke="#111" stroke-width="1.1"/>
<line x1="300.5" y1="231.5" x2="303.5" y2="231.5" stroke="#111" stroke-width="1.0"/>
<text x="297.5" y="234.2" font-size="7.6" text-anchor="end" font-weight="normal" fill="#3a3a3a" stroke="#444" stroke-width="0.1">100</text>
<line x1="300.5" y1="266.0" x2="303.5" y2="266.0" stroke="#111" stroke-width="1.0"/>
<text x="297.5" y="268.7" font-size="7.6" text-anchor="end" font-weight="normal" fill="#3a3a3a" stroke="#444" stroke-width="0.1">50</text>
<line x1="300.5" y1="300.5" x2="303.5" y2="300.5" stroke="#111" stroke-width="1.0"/>
<text x="297.5" y="303.2" font-size="7.6" text-anchor="end" font-weight="normal" fill="#3a3a3a" stroke="#444" stroke-width="0.1">0</text>
<line x1="314.5" y1="300.5" x2="314.5" y2="303.5" stroke="#111" stroke-width="1.0"/>
<text x="314.8" y="313.6" font-size="7.4" text-anchor="middle" font-weight="normal" fill="#3a3a3a" stroke="#444" stroke-width="0.1">-11</text>
<line x1="336.55" y1="300.5" x2="336.55" y2="303.5" stroke="#111" stroke-width="1.0"/>
<text x="336.85" y="313.6" font-size="7.4" text-anchor="middle" font-weight="normal" fill="#3a3a3a" stroke="#444" stroke-width="0.1">-10</text>
<line x1="358.6" y1="300.5" x2="358.6" y2="303.5" stroke="#111" stroke-width="1.0"/>
<text x="358.90000000000003" y="313.6" font-size="7.4" text-anchor="middle" font-weight="normal" fill="#3a3a3a" stroke="#444" stroke-width="0.1">-9</text>
<line x1="380.65" y1="300.5" x2="380.65" y2="303.5" stroke="#111" stroke-width="1.0"/>
<text x="380.95" y="313.6" font-size="7.4" text-anchor="middle" font-weight="normal" fill="#3a3a3a" stroke="#444" stroke-width="0.1">-8</text>
<line x1="402.7" y1="300.5" x2="402.7" y2="303.5" stroke="#111" stroke-width="1.0"/>
<text x="403.0" y="313.6" font-size="7.4" text-anchor="middle" font-weight="normal" fill="#3a3a3a" stroke="#444" stroke-width="0.1">-7</text>
<text x="330.7" y="326.5" font-size="9.6" text-anchor="start" font-weight="normal" fill="#2a2a2a" textLength="56.5" lengthAdjust="spacingAndGlyphs" stroke="#2a2a2a" stroke-width="0.3">Log10 (dose) (M)</text>
<text font-size="9.4" fill="#2a2a2a" stroke="#2a2a2a" stroke-width="0.3" text-anchor="middle" transform="translate(278.0,257.5) rotate(-90)" textLength="62.8" lengthAdjust="spacingAndGlyphs">RLUs (DMSO norm)</text>
<line x1="314.5" y1="230.6" x2="402.7" y2="232.4" stroke="#b4186c" stroke-width="1.35"/>
<line x1="314.5" y1="223.22000000000003" x2="314.5" y2="230.12" stroke="#b4186c" stroke-width="0.9"/>
<line x1="313.0" y1="223.22000000000003" x2="316.0" y2="223.22000000000003" stroke="#b4186c" stroke-width="0.9"/>
<line x1="313.0" y1="230.12" x2="316.0" y2="230.12" stroke="#b4186c" stroke-width="0.9"/>
<circle cx="314.50" cy="226.67" r="1.6" fill="#fff" stroke="#b4186c" stroke-width="0.9"/>
<line x1="325.525" y1="227.774" x2="325.525" y2="233.29399999999998" stroke="#b4186c" stroke-width="0.9"/>
<line x1="324.025" y1="227.774" x2="327.025" y2="227.774" stroke="#b4186c" stroke-width="0.9"/>
<line x1="324.025" y1="233.29399999999998" x2="327.025" y2="233.29399999999998" stroke="#b4186c" stroke-width="0.9"/>
<circle cx="325.52" cy="230.53" r="1.6" fill="#b4186c" stroke="#b4186c" stroke-width="0.9"/>
<line x1="336.55" y1="227.774" x2="336.55" y2="233.29399999999998" stroke="#b4186c" stroke-width="0.9"/>
<line x1="335.05" y1="227.774" x2="338.05" y2="227.774" stroke="#b4186c" stroke-width="0.9"/>
<line x1="335.05" y1="233.29399999999998" x2="338.05" y2="233.29399999999998" stroke="#b4186c" stroke-width="0.9"/>
<circle cx="336.55" cy="230.53" r="1.6" fill="#b4186c" stroke="#b4186c" stroke-width="0.9"/>
<line x1="347.575" y1="229.70600000000002" x2="347.575" y2="232.466" stroke="#b4186c" stroke-width="0.9"/>
<line x1="346.075" y1="229.70600000000002" x2="349.075" y2="229.70600000000002" stroke="#b4186c" stroke-width="0.9"/>
<line x1="346.075" y1="232.466" x2="349.075" y2="232.466" stroke="#b4186c" stroke-width="0.9"/>
<circle cx="347.57" cy="231.09" r="1.6" fill="#b4186c" stroke="#b4186c" stroke-width="0.9"/>
<circle cx="358.60" cy="232.60" r="1.6" fill="#fff" stroke="#b4186c" stroke-width="0.9"/>
<line x1="369.625" y1="227.63600000000002" x2="369.625" y2="234.536" stroke="#b4186c" stroke-width="0.9"/>
<line x1="368.125" y1="227.63600000000002" x2="371.125" y2="227.63600000000002" stroke="#b4186c" stroke-width="0.9"/>
<line x1="368.125" y1="234.536" x2="371.125" y2="234.536" stroke="#b4186c" stroke-width="0.9"/>
<circle cx="369.62" cy="231.09" r="1.6" fill="#b4186c" stroke="#b4186c" stroke-width="0.9"/>
<circle cx="380.65" cy="236.12" r="1.6" fill="#fff" stroke="#b4186c" stroke-width="0.9"/>
<line x1="391.675" y1="229.568" x2="391.675" y2="235.088" stroke="#b4186c" stroke-width="0.9"/>
<line x1="390.175" y1="229.568" x2="393.175" y2="229.568" stroke="#b4186c" stroke-width="0.9"/>
<line x1="390.175" y1="235.088" x2="393.175" y2="235.088" stroke="#b4186c" stroke-width="0.9"/>
<circle cx="391.68" cy="232.33" r="1.6" fill="#b4186c" stroke="#b4186c" stroke-width="0.9"/>
<circle cx="402.70" cy="232.33" r="1.6" fill="#fff" stroke="#b4186c" stroke-width="0.9"/>
<path d="M314.50,230.25 L315.62,230.25 L316.73,230.26 L317.85,230.26 L318.97,230.26 L320.08,230.27 L321.20,230.28 L322.32,230.28 L323.43,230.29 L324.55,230.30 L325.66,230.32 L326.78,230.33 L327.90,230.35 L329.01,230.37 L330.13,230.39 L331.25,230.42 L332.36,230.45 L333.48,230.49 L334.60,230.53 L335.71,230.59 L336.83,230.65 L337.95,230.72 L339.06,230.81 L340.18,230.91 L341.29,231.03 L342.41,231.16 L343.53,231.33 L344.64,231.51 L345.76,231.73 L346.88,231.99 L347.99,232.29 L349.11,232.63 L350.23,233.03 L351.34,233.49 L352.46,234.02 L353.58,234.63 L354.69,235.32 L355.81,236.11 L356.93,236.99 L358.04,237.99 L359.16,239.10 L360.27,240.33 L361.39,241.67 L362.51,243.13 L363.62,244.70 L364.74,246.37 L365.86,248.12 L366.97,249.94 L368.09,251.80 L369.21,253.68 L370.32,255.56 L371.44,257.41 L372.56,259.20 L373.67,260.93 L374.79,262.56 L375.91,264.09 L377.02,265.51 L378.14,266.81 L379.25,268.00 L380.37,269.07 L381.49,270.02 L382.60,270.87 L383.72,271.63 L384.84,272.29 L385.95,272.86 L387.07,273.37 L388.19,273.81 L389.30,274.18 L390.42,274.51 L391.54,274.79 L392.65,275.03 L393.77,275.24 L394.88,275.42 L396.00,275.57 L397.12,275.70 L398.23,275.81 L399.35,275.91 L400.47,275.99 L401.58,276.06 L402.70,276.12" fill="none" stroke="#284676" stroke-width="1.35"/>
<line x1="314.5" y1="229.085" x2="314.5" y2="233.225" stroke="#284676" stroke-width="0.9"/>
<line x1="313.0" y1="229.085" x2="316.0" y2="229.085" stroke="#284676" stroke-width="0.9"/>
<line x1="313.0" y1="233.225" x2="316.0" y2="233.225" stroke="#284676" stroke-width="0.9"/>
<circle cx="314.50" cy="231.16" r="1.6" fill="#284676" stroke="#284676" stroke-width="0.9"/>
<circle cx="325.52" cy="231.16" r="1.6" fill="#284676" stroke="#284676" stroke-width="0.9"/>
<line x1="336.55" y1="226.11800000000002" x2="336.55" y2="233.018" stroke="#284676" stroke-width="0.9"/>
<line x1="335.05" y1="226.11800000000002" x2="338.05" y2="226.11800000000002" stroke="#284676" stroke-width="0.9"/>
<line x1="335.05" y1="233.018" x2="338.05" y2="233.018" stroke="#284676" stroke-width="0.9"/>
<circle cx="336.55" cy="229.57" r="1.6" fill="#284676" stroke="#284676" stroke-width="0.9"/>
<circle cx="347.57" cy="231.16" r="1.6" fill="#284676" stroke="#284676" stroke-width="0.9"/>
<line x1="358.6" y1="236.744" x2="358.6" y2="240.884" stroke="#284676" stroke-width="0.9"/>
<line x1="357.1" y1="236.744" x2="360.1" y2="236.744" stroke="#284676" stroke-width="0.9"/>
<line x1="357.1" y1="240.884" x2="360.1" y2="240.884" stroke="#284676" stroke-width="0.9"/>
<circle cx="358.60" cy="238.81" r="1.6" fill="#284676" stroke="#284676" stroke-width="0.9"/>
<line x1="369.625" y1="251.16500000000002" x2="369.625" y2="258.065" stroke="#284676" stroke-width="0.9"/>
<line x1="368.125" y1="251.16500000000002" x2="371.125" y2="251.16500000000002" stroke="#284676" stroke-width="0.9"/>
<line x1="368.125" y1="258.065" x2="371.125" y2="258.065" stroke="#284676" stroke-width="0.9"/>
<circle cx="369.62" cy="254.62" r="1.6" fill="#284676" stroke="#284676" stroke-width="0.9"/>
<circle cx="380.65" cy="269.04" r="1.6" fill="#284676" stroke="#284676" stroke-width="0.9"/>
<line x1="391.675" y1="272.21" x2="391.675" y2="276.34999999999997" stroke="#284676" stroke-width="0.9"/>
<line x1="390.175" y1="272.21" x2="393.175" y2="272.21" stroke="#284676" stroke-width="0.9"/>
<line x1="390.175" y1="276.34999999999997" x2="393.175" y2="276.34999999999997" stroke="#284676" stroke-width="0.9"/>
<circle cx="391.68" cy="274.28" r="1.6" fill="#284676" stroke="#284676" stroke-width="0.9"/>
<line x1="402.7" y1="274.004" x2="402.7" y2="279.524" stroke="#284676" stroke-width="0.9"/>
<line x1="401.2" y1="274.004" x2="404.2" y2="274.004" stroke="#284676" stroke-width="0.9"/>
<line x1="401.2" y1="279.524" x2="404.2" y2="279.524" stroke="#284676" stroke-width="0.9"/>
<circle cx="402.70" cy="276.76" r="1.6" fill="#fff" stroke="#284676" stroke-width="0.9"/>
<path d="M314.50,232.14 L315.62,232.24 L316.73,232.35 L317.85,232.48 L318.97,232.61 L320.08,232.76 L321.20,232.92 L322.32,233.09 L323.43,233.28 L324.55,233.48 L325.66,233.70 L326.78,233.93 L327.90,234.19 L329.01,234.47 L330.13,234.77 L331.25,235.09 L332.36,235.44 L333.48,235.82 L334.60,236.22 L335.71,236.66 L336.83,237.12 L337.95,237.62 L339.06,238.16 L340.18,238.73 L341.29,239.34 L342.41,239.99 L343.53,240.68 L344.64,241.41 L345.76,242.19 L346.88,243.01 L347.99,243.87 L349.11,244.77 L350.23,245.72 L351.34,246.71 L352.46,247.74 L353.58,248.82 L354.69,249.92 L355.81,251.07 L356.93,252.25 L358.04,253.45 L359.16,254.68 L360.27,255.93 L361.39,257.20 L362.51,258.48 L363.62,259.77 L364.74,261.06 L365.86,262.35 L366.97,263.63 L368.09,264.90 L369.21,266.15 L370.32,267.38 L371.44,268.59 L372.56,269.77 L373.67,270.91 L374.79,272.02 L375.91,273.09 L377.02,274.12 L378.14,275.11 L379.25,276.06 L380.37,276.97 L381.49,277.83 L382.60,278.65 L383.72,279.42 L384.84,280.15 L385.95,280.84 L387.07,281.49 L388.19,282.11 L389.30,282.68 L390.42,283.21 L391.54,283.71 L392.65,284.18 L393.77,284.62 L394.88,285.02 L396.00,285.40 L397.12,285.75 L398.23,286.07 L399.35,286.37 L400.47,286.65 L401.58,286.90 L402.70,287.14" fill="none" stroke="#6ba442" stroke-width="1.35"/>
<circle cx="314.50" cy="231.91" r="1.6" fill="#fff" stroke="#6ba442" stroke-width="0.9"/>
<circle cx="325.52" cy="232.88" r="1.6" fill="#fff" stroke="#6ba442" stroke-width="0.9"/>
<line x1="336.55" y1="234.674" x2="336.55" y2="240.194" stroke="#6ba442" stroke-width="0.9"/>
<line x1="335.05" y1="234.674" x2="338.05" y2="234.674" stroke="#6ba442" stroke-width="0.9"/>
<line x1="335.05" y1="240.194" x2="338.05" y2="240.194" stroke="#6ba442" stroke-width="0.9"/>
<circle cx="336.55" cy="237.43" r="1.6" fill="#fff" stroke="#6ba442" stroke-width="0.9"/>
<line x1="347.575" y1="242.264" x2="347.575" y2="249.164" stroke="#6ba442" stroke-width="0.9"/>
<line x1="346.075" y1="242.264" x2="349.075" y2="242.264" stroke="#6ba442" stroke-width="0.9"/>
<line x1="346.075" y1="249.164" x2="349.075" y2="249.164" stroke="#6ba442" stroke-width="0.9"/>
<circle cx="347.57" cy="245.71" r="1.6" fill="#fff" stroke="#6ba442" stroke-width="0.9"/>
<line x1="358.6" y1="248.681" x2="358.6" y2="255.581" stroke="#6ba442" stroke-width="0.9"/>
<line x1="357.1" y1="248.681" x2="360.1" y2="248.681" stroke="#6ba442" stroke-width="0.9"/>
<line x1="357.1" y1="255.581" x2="360.1" y2="255.581" stroke="#6ba442" stroke-width="0.9"/>
<circle cx="358.60" cy="252.13" r="1.6" fill="#fff" stroke="#6ba442" stroke-width="0.9"/>
<line x1="369.625" y1="262.274" x2="369.625" y2="269.174" stroke="#6ba442" stroke-width="0.9"/>
<line x1="368.125" y1="262.274" x2="371.125" y2="262.274" stroke="#6ba442" stroke-width="0.9"/>
<line x1="368.125" y1="269.174" x2="371.125" y2="269.174" stroke="#6ba442" stroke-width="0.9"/>
<circle cx="369.62" cy="265.72" r="1.6" fill="#fff" stroke="#6ba442" stroke-width="0.9"/>
<circle cx="380.65" cy="279.32" r="1.6" fill="#fff" stroke="#6ba442" stroke-width="0.9"/>
<circle cx="391.68" cy="283.53" r="1.6" fill="#fff" stroke="#6ba442" stroke-width="0.9"/>
<circle cx="402.70" cy="286.49" r="1.6" fill="#fff" stroke="#6ba442" stroke-width="0.9"/>
<path d="M314.50,241.43 L315.62,241.65 L316.73,241.88 L317.85,242.13 L318.97,242.38 L320.08,242.65 L321.20,242.92 L322.32,243.21 L323.43,243.52 L324.55,243.83 L325.66,244.16 L326.78,244.51 L327.90,244.86 L329.01,245.24 L330.13,245.62 L331.25,246.03 L332.36,246.44 L333.48,246.88 L334.60,247.32 L335.71,247.79 L336.83,248.27 L337.95,248.76 L339.06,249.27 L340.18,249.80 L341.29,250.34 L342.41,250.90 L343.53,251.47 L344.64,252.06 L345.76,252.66 L346.88,253.28 L347.99,253.91 L349.11,254.55 L350.23,255.20 L351.34,255.87 L352.46,256.55 L353.58,257.23 L354.69,257.93 L355.81,258.63 L356.93,259.34 L358.04,260.06 L359.16,260.78 L360.27,261.50 L361.39,262.23 L362.51,262.96 L363.62,263.69 L364.74,264.41 L365.86,265.14 L366.97,265.86 L368.09,266.58 L369.21,267.30 L370.32,268.01 L371.44,268.71 L372.56,269.40 L373.67,270.08 L374.79,270.75 L375.91,271.41 L377.02,272.06 L378.14,272.70 L379.25,273.33 L380.37,273.94 L381.49,274.54 L382.60,275.12 L383.72,275.69 L384.84,276.24 L385.95,276.78 L387.07,277.30 L388.19,277.80 L389.30,278.29 L390.42,278.77 L391.54,279.23 L392.65,279.67 L393.77,280.10 L394.88,280.51 L396.00,280.91 L397.12,281.29 L398.23,281.65 L399.35,282.01 L400.47,282.35 L401.58,282.67 L402.70,282.98" fill="none" stroke="#9c1232" stroke-width="1.35"/>
<line x1="314.5" y1="239.573" x2="314.5" y2="245.093" stroke="#9c1232" stroke-width="0.9"/>
<line x1="313.0" y1="239.573" x2="316.0" y2="239.573" stroke="#9c1232" stroke-width="0.9"/>
<line x1="313.0" y1="245.093" x2="316.0" y2="245.093" stroke="#9c1232" stroke-width="0.9"/>
<circle cx="314.50" cy="242.33" r="1.6" fill="#fff" stroke="#9c1232" stroke-width="0.9"/>
<line x1="325.525" y1="239.573" x2="325.525" y2="245.093" stroke="#9c1232" stroke-width="0.9"/>
<line x1="324.025" y1="239.573" x2="327.025" y2="239.573" stroke="#9c1232" stroke-width="0.9"/>
<line x1="324.025" y1="245.093" x2="327.025" y2="245.093" stroke="#9c1232" stroke-width="0.9"/>
<circle cx="325.52" cy="242.33" r="1.6" fill="#fff" stroke="#9c1232" stroke-width="0.9"/>
<line x1="336.55" y1="245.852" x2="336.55" y2="251.37199999999999" stroke="#9c1232" stroke-width="0.9"/>
<line x1="335.05" y1="245.852" x2="338.05" y2="245.852" stroke="#9c1232" stroke-width="0.9"/>
<line x1="335.05" y1="251.37199999999999" x2="338.05" y2="251.37199999999999" stroke="#9c1232" stroke-width="0.9"/>
<circle cx="336.55" cy="248.61" r="1.6" fill="#fff" stroke="#9c1232" stroke-width="0.9"/>
<circle cx="347.57" cy="254.68" r="1.6" fill="#fff" stroke="#9c1232" stroke-width="0.9"/>
<circle cx="358.60" cy="260.20" r="1.6" fill="#9c1232" stroke="#9c1232" stroke-width="0.9"/>
<circle cx="369.62" cy="266.69" r="1.6" fill="#fff" stroke="#9c1232" stroke-width="0.9"/>
<circle cx="380.65" cy="274.28" r="1.6" fill="#9c1232" stroke="#9c1232" stroke-width="0.9"/>
<circle cx="391.68" cy="280.01" r="1.6" fill="#9c1232" stroke="#9c1232" stroke-width="0.9"/>
<line x1="402.7" y1="280.49" x2="402.7" y2="284.63" stroke="#9c1232" stroke-width="0.9"/>
<line x1="401.2" y1="280.49" x2="404.2" y2="280.49" stroke="#9c1232" stroke-width="0.9"/>
<line x1="401.2" y1="284.63" x2="404.2" y2="284.63" stroke="#9c1232" stroke-width="0.9"/>
<circle cx="402.70" cy="282.56" r="1.6" fill="#fff" stroke="#9c1232" stroke-width="0.9"/>
<line x1="407.6" y1="219.8" x2="414.90000000000003" y2="219.8" stroke="#b82070" stroke-width="1.1"/>
<ellipse cx="411.25" cy="219.8" rx="2.2" ry="1.8" fill="#a0185a"/>
<text x="416.5" y="222.5" font-size="7.7" text-anchor="start" font-weight="normal" fill="#333" textLength="22.6" lengthAdjust="spacingAndGlyphs" stroke="#333" stroke-width="0.25">DMSO</text>
<path d="M432.5,227.0 H429.5 V256.2 H432.5" fill="none" stroke="#111" stroke-width="1.05"/>
<line x1="426.5" y1="242.4" x2="429.5" y2="242.4" stroke="#111" stroke-width="1.05"/>
<text x="423.0" y="244.9" font-size="7.1" text-anchor="end" font-weight="normal" fill="#3a3a3a" stroke="#3a3a3a" stroke-width="0.1">+ IB</text>
<line x1="435.8" y1="227.8" x2="442.3" y2="227.8" stroke="#84b464" stroke-width="1.1"/>
<ellipse cx="439.05" cy="227.8" rx="2.1" ry="1.7" fill="#84b464"/>
<line x1="435.8" y1="240.6" x2="442.3" y2="240.6" stroke="#34507a" stroke-width="1.1"/>
<ellipse cx="439.05" cy="240.6" rx="2.1" ry="1.7" fill="#34507a"/>
<line x1="435.8" y1="256.0" x2="442.3" y2="256.0" stroke="#8e1838" stroke-width="1.1"/>
<ellipse cx="439.05" cy="256.0" rx="2.1" ry="1.7" fill="#8e1838"/>
<text x="445.3" y="230.8" font-size="7.7" text-anchor="start" font-weight="normal" fill="#333" textLength="48.2" lengthAdjust="spacingAndGlyphs" stroke="#333" stroke-width="0.25">TMD8 BTK WT</text>
<text x="445.3" y="243.3" font-size="7.7" text-anchor="start" font-weight="normal" fill="#333" textLength="59.9" lengthAdjust="spacingAndGlyphs" stroke="#333" stroke-width="0.25">TMD8 BTK C481S</text>
<text x="445.3" y="255.3" font-size="7.7" text-anchor="start" font-weight="normal" fill="#333" textLength="59.9" lengthAdjust="spacingAndGlyphs" stroke="#333" stroke-width="0.25">TMD8 BTK C481S</text>
<text x="445.8" y="263.8" font-size="7.7" text-anchor="start" font-weight="normal" fill="#333" textLength="37.0" lengthAdjust="spacingAndGlyphs" stroke="#333" stroke-width="0.25">+ anti-IL-10</text>
<path d="M506.3,225.4 H509.5 V260.4 H506.3" fill="none" stroke="#111" stroke-width="1.05"/>
<path d="M509.5,242.5 H512.5 V291.5 H493.6" fill="none" stroke="#111" stroke-width="1.05"/>
<path d="M488.6,291.5 L494.40000000000003,288.9 L494.40000000000003,294.1 Z" fill="#111"/>
<line x1="450.7" y1="278.0" x2="450.7" y2="302.8" stroke="#8c94b4" stroke-width="0.8"/>
<line x1="498.3" y1="278.0" x2="498.3" y2="302.8" stroke="#8c94b4" stroke-width="0.8"/>
<ellipse cx="474.5" cy="304.6" rx="24.0" ry="5.3" fill="#fff" stroke="#111" stroke-width="1.25"/>
<circle cx="455.30" cy="304.60" r="1.2" fill="#383838"/>
<circle cx="461.50" cy="306.70" r="1.2" fill="#383838"/>
<circle cx="463.10" cy="302.80" r="1.2" fill="#383838"/>
<circle cx="467.20" cy="301.80" r="1.2" fill="#383838"/>
<circle cx="469.30" cy="307.00" r="1.2" fill="#383838"/>
<circle cx="472.40" cy="301.50" r="1.2" fill="#383838"/>
<circle cx="474.00" cy="304.90" r="1.2" fill="#383838"/>
<circle cx="478.10" cy="302.80" r="1.2" fill="#383838"/>
<circle cx="478.10" cy="306.70" r="1.2" fill="#383838"/>
<circle cx="483.30" cy="307.20" r="1.2" fill="#383838"/>
<circle cx="487.00" cy="304.60" r="1.2" fill="#383838"/>
<circle cx="492.70" cy="304.30" r="1.2" fill="#383838"/>
<line x1="458.1" y1="305.3" x2="458.1" y2="318.70000000000005" stroke="#111" stroke-width="1.1"/>
<ellipse cx="475.0" cy="290.79999999999995" rx="13.8" ry="3.9" fill="#f8f0e2" stroke="#222" stroke-width="0.9"/>
<circle cx="465.00" cy="290.50" r="1.45" fill="#4a3020" stroke="#24160c" stroke-width="0.5"/>
<circle cx="468.20" cy="288.00" r="1.45" fill="#4a3020" stroke="#24160c" stroke-width="0.5"/>
<circle cx="470.30" cy="293.00" r="1.45" fill="#4a3020" stroke="#24160c" stroke-width="0.5"/>
<circle cx="473.90" cy="287.80" r="1.45" fill="#4a3020" stroke="#24160c" stroke-width="0.5"/>
<circle cx="474.60" cy="291.20" r="1.45" fill="#4a3020" stroke="#24160c" stroke-width="0.5"/>
<circle cx="479.60" cy="292.70" r="1.45" fill="#4a3020" stroke="#24160c" stroke-width="0.5"/>
<circle cx="480.30" cy="288.50" r="1.45" fill="#4a3020" stroke="#24160c" stroke-width="0.5"/>
<circle cx="484.90" cy="290.90" r="1.45" fill="#4a3020" stroke="#24160c" stroke-width="0.5"/>
<path d="M448.1,275.2 L461.5,291.59999999999997" stroke="#111" stroke-width="1.6" fill="none"/>
<path d="M500.9,275.0 L489.3,291.0" stroke="#111" stroke-width="1.6" fill="none"/>
<ellipse cx="474.5" cy="274.8" rx="26.6" ry="3.2" fill="none" stroke="#7a8494" stroke-width="1.0"/>
<ellipse cx="474.7" cy="277.3" rx="24.6" ry="3.3" fill="none" stroke="#5a64b4" stroke-width="1.0"/>
<text x="452.6" y="329.0" font-size="7.8" text-anchor="middle" font-weight="normal" fill="#333" textLength="57.6" lengthAdjust="spacingAndGlyphs" stroke="#333" stroke-width="0.25">Non-transduced</text>
<text x="453.6" y="338.5" font-size="7.8" text-anchor="middle" font-weight="normal" fill="#333" textLength="22.2" lengthAdjust="spacingAndGlyphs" stroke="#333" stroke-width="0.25">TMD8</text>
<text x="491.0" y="333.70000000000005" font-size="7.6" text-anchor="start" font-weight="normal" fill="#333" stroke="#333" stroke-width="0.25">+ IB</text>
<rect x="0.5" y="0.5" width="519" height="346" fill="none" stroke="#000" stroke-width="1"/>
</svg>
</body></html>
